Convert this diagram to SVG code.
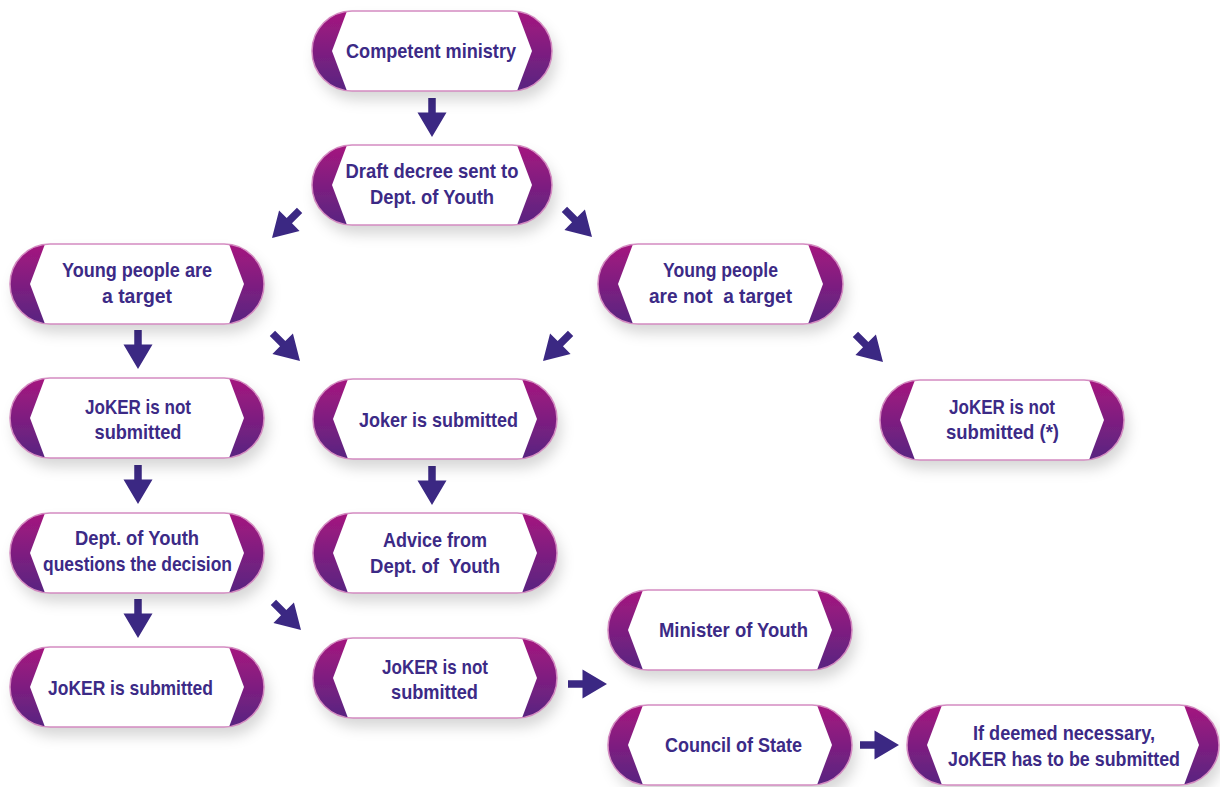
<svg xmlns="http://www.w3.org/2000/svg" xmlns:xlink="http://www.w3.org/1999/xlink" width="1220" height="787" viewBox="0 0 1220 787">
<defs>
<linearGradient id="pg" x1="0" y1="0" x2="0" y2="1">
<stop offset="0" stop-color="#a5177f"/>
<stop offset="1" stop-color="#582581"/>
</linearGradient>
<filter id="sh" x="-20%" y="-30%" width="140%" height="180%">
<feDropShadow dx="4" dy="9" stdDeviation="7" flood-color="#000" flood-opacity="0.16"/>
</filter>
<path id="arr" d="M-3.75,-39 H3.75 V-24.5 H14.5 L0,0 L-14.5,-24.5 H-3.75 Z"/>
</defs>
<style>
.pill{fill:url(#pg);filter:url(#sh)}
.hex{fill:#fff}
.rim{fill:none;stroke:#d48bc1;stroke-width:1.5}
.t{font-family:"Liberation Sans",Arial,sans-serif;font-weight:bold;font-size:21px;fill:#3c2a86;text-anchor:middle;white-space:pre}
.a{fill:#3b2883}
</style>
<rect width="1220" height="787" fill="#fff"/>

<g id="connectors">
<use xlink:href="#arr" class="a" transform="translate(432,137)"/>
<use xlink:href="#arr" class="a" transform="translate(272,238) rotate(45)"/>
<use xlink:href="#arr" class="a" transform="translate(592,237) rotate(-45)"/>
<use xlink:href="#arr" class="a" transform="translate(138,369)"/>
<use xlink:href="#arr" class="a" transform="translate(300,361) rotate(-45)"/>
<use xlink:href="#arr" class="a" transform="translate(543,361) rotate(45)"/>
<use xlink:href="#arr" class="a" transform="translate(883,362) rotate(-45)"/>
<use xlink:href="#arr" class="a" transform="translate(138,504)"/>
<use xlink:href="#arr" class="a" transform="translate(432,505)"/>
<use xlink:href="#arr" class="a" transform="translate(138,638)"/>
<use xlink:href="#arr" class="a" transform="translate(301,630) rotate(-45)"/>
<use xlink:href="#arr" class="a" transform="translate(607,684) rotate(-90)"/>
<use xlink:href="#arr" class="a" transform="translate(899,745) rotate(-90)"/>
</g>

<g id="n1">
<rect class="pill" x="312" y="11" width="240" height="80" rx="40"/>
<path class="hex" d="M347,11 H517 L532,51 L517,91 H347 L332,51 Z"/>
<rect class="rim" x="312" y="11" width="240" height="80" rx="40"/>
<text class="t" x="431" y="58" textLength="170" lengthAdjust="spacingAndGlyphs">Competent ministry</text>
</g>

<g id="n2">
<rect class="pill" x="312" y="145" width="240" height="80" rx="40"/>
<path class="hex" d="M347,145 H517 L532,185 L517,225 H347 L332,185 Z"/>
<rect class="rim" x="312" y="145" width="240" height="80" rx="40"/>
<text class="t" x="432" y="178" textLength="173" lengthAdjust="spacingAndGlyphs">Draft decree sent to</text>
<text class="t" x="432" y="204" textLength="124" lengthAdjust="spacingAndGlyphs">Dept. of Youth</text>
</g>

<g id="n3">
<rect class="pill" x="10" y="244" width="254" height="80" rx="40"/>
<path class="hex" d="M45,244 H229 L244,284 L229,324 H45 L30,284 Z"/>
<rect class="rim" x="10" y="244" width="254" height="80" rx="40"/>
<text class="t" x="137" y="277" textLength="150" lengthAdjust="spacingAndGlyphs">Young people are</text>
<text class="t" x="137" y="303" textLength="70" lengthAdjust="spacingAndGlyphs">a target</text>
</g>

<g id="n4">
<rect class="pill" x="598" y="244" width="245" height="80" rx="40"/>
<path class="hex" d="M633,244 H808 L823,284 L808,324 H633 L618,284 Z"/>
<rect class="rim" x="598" y="244" width="245" height="80" rx="40"/>
<text class="t" x="720.5" y="277" textLength="115" lengthAdjust="spacingAndGlyphs">Young people</text>
<text class="t" x="720.5" y="303" textLength="143" lengthAdjust="spacingAndGlyphs">are not  a target</text>
</g>

<g id="n5">
<rect class="pill" x="10" y="378" width="254" height="80" rx="40"/>
<path class="hex" d="M45,378 H229 L244,418 L229,458 H45 L30,418 Z"/>
<rect class="rim" x="10" y="378" width="254" height="80" rx="40"/>
<text class="t" x="138" y="413.5" textLength="106" lengthAdjust="spacingAndGlyphs">JoKER is not</text>
<text class="t" x="138" y="439" textLength="87" lengthAdjust="spacingAndGlyphs">submitted</text>
</g>

<g id="n6">
<rect class="pill" x="313" y="379" width="244" height="80" rx="40"/>
<path class="hex" d="M348,379 H522 L537,419 L522,459 H348 L333,419 Z"/>
<rect class="rim" x="313" y="379" width="244" height="80" rx="40"/>
<text class="t" x="438.5" y="427" textLength="159" lengthAdjust="spacingAndGlyphs">Joker is submitted</text>
</g>

<g id="n7">
<rect class="pill" x="880" y="380" width="244" height="80" rx="40"/>
<path class="hex" d="M915,380 H1089 L1104,420 L1089,460 H915 L900,420 Z"/>
<rect class="rim" x="880" y="380" width="244" height="80" rx="40"/>
<text class="t" x="1002" y="413.5" textLength="106" lengthAdjust="spacingAndGlyphs">JoKER is not</text>
<text class="t" x="1002.5" y="439" textLength="113" lengthAdjust="spacingAndGlyphs">submitted (*)</text>
</g>

<g id="n8">
<rect class="pill" x="10" y="513" width="254" height="80" rx="40"/>
<path class="hex" d="M45,513 H229 L244,553 L229,593 H45 L30,553 Z"/>
<rect class="rim" x="10" y="513" width="254" height="80" rx="40"/>
<text class="t" x="137" y="545" textLength="124" lengthAdjust="spacingAndGlyphs">Dept. of Youth</text>
<text class="t" x="137.5" y="571" textLength="189" lengthAdjust="spacingAndGlyphs">questions the decision</text>
</g>

<g id="n9">
<rect class="pill" x="313" y="513" width="244" height="80" rx="40"/>
<path class="hex" d="M348,513 H522 L537,553 L522,593 H348 L333,553 Z"/>
<rect class="rim" x="313" y="513" width="244" height="80" rx="40"/>
<text class="t" x="435" y="547" textLength="104" lengthAdjust="spacingAndGlyphs">Advice from</text>
<text class="t" x="435" y="573" textLength="130" lengthAdjust="spacingAndGlyphs">Dept. of  Youth</text>
</g>

<g id="n10">
<rect class="pill" x="10" y="647" width="254" height="80" rx="40"/>
<path class="hex" d="M45,647 H229 L244,687 L229,727 H45 L30,687 Z"/>
<rect class="rim" x="10" y="647" width="254" height="80" rx="40"/>
<text class="t" x="130.5" y="695" textLength="165" lengthAdjust="spacingAndGlyphs">JoKER is submitted</text>
</g>

<g id="n11">
<rect class="pill" x="313" y="638" width="244" height="80" rx="40"/>
<path class="hex" d="M348,638 H522 L537,678 L522,718 H348 L333,678 Z"/>
<rect class="rim" x="313" y="638" width="244" height="80" rx="40"/>
<text class="t" x="435" y="673.5" textLength="106" lengthAdjust="spacingAndGlyphs">JoKER is not</text>
<text class="t" x="434.5" y="699" textLength="87" lengthAdjust="spacingAndGlyphs">submitted</text>
</g>

<g id="n12">
<rect class="pill" x="608" y="590" width="244" height="80" rx="40"/>
<path class="hex" d="M643,590 H817 L832,630 L817,670 H643 L628,630 Z"/>
<rect class="rim" x="608" y="590" width="244" height="80" rx="40"/>
<text class="t" x="733.5" y="637" textLength="149" lengthAdjust="spacingAndGlyphs">Minister of Youth</text>
</g>

<g id="n13">
<rect class="pill" x="608" y="705" width="244" height="80" rx="40"/>
<path class="hex" d="M643,705 H817 L832,745 L817,785 H643 L628,745 Z"/>
<rect class="rim" x="608" y="705" width="244" height="80" rx="40"/>
<text class="t" x="733.5" y="752" textLength="137" lengthAdjust="spacingAndGlyphs">Council of State</text>
</g>

<g id="n14">
<rect class="pill" x="907" y="705" width="312" height="80" rx="40"/>
<path class="hex" d="M942,705 H1184 L1199,745 L1184,785 H942 L927,745 Z"/>
<rect class="rim" x="907" y="705" width="312" height="80" rx="40"/>
<text class="t" x="1064" y="739.5" textLength="182" lengthAdjust="spacingAndGlyphs">If deemed necessary,</text>
<text class="t" x="1064" y="765.5" textLength="232" lengthAdjust="spacingAndGlyphs">JoKER has to be submitted</text>
</g>
</svg>
